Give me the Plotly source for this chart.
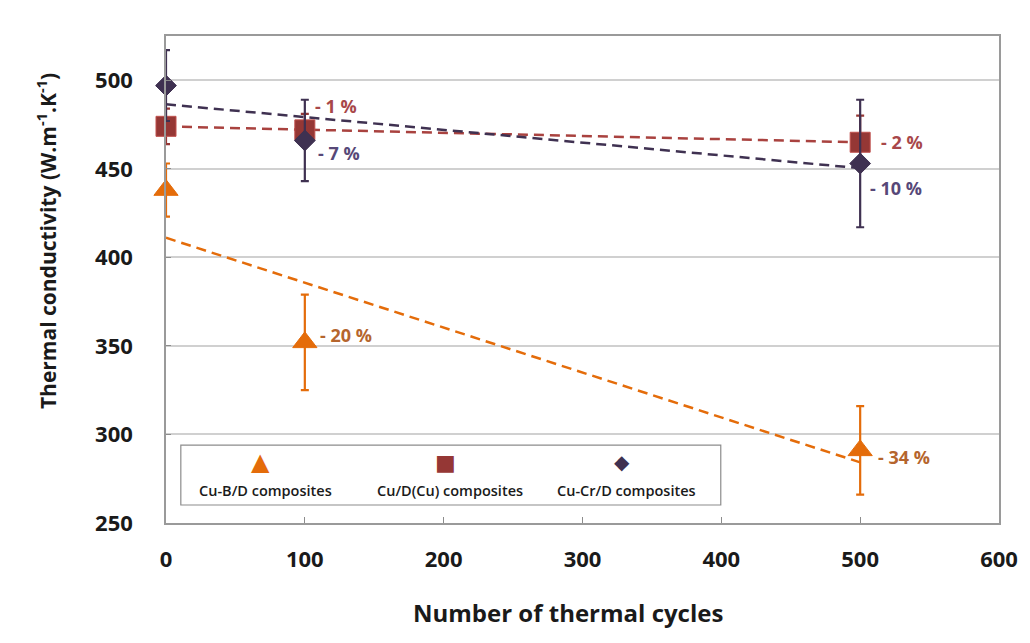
import numpy as np
import plotly.graph_objects as go

cycles = [0, 100, 500]

series_names = ["Cu-B/D composites", "Cu/D(Cu) composites", "Cu-Cr/D composites"]
cub_vals = [438, 352, 291]
cub_err = [15, 27, 25]
cud_vals = [474, 472, 465]
cud_err = [10, 9, 15]
cucr_vals = [497, 466, 453]
cucr_err = [20, 23, 36]

cub_labels = ["", "- 20 %", "- 34 %"]
cud_labels = ["", "- 1 %", "- 2 %"]
cucr_labels = ["", "- 7 %", "- 10 %"]

x_ticks = [0, 100, 200, 300, 400, 500, 600]
y_ticks = [250, 300, 350, 400, 450, 500]

x_title = "Number of thermal cycles"
y_title = "Thermal conductivity (W.m<sup>-1</sup>.K<sup>-1</sup>)"

FONT = "Open Sans"
ORANGE = "#E46C0A"
RED = "#953735"
PURPLE = "#3F3151"
TXT = "#1a1a1a"

fig = go.Figure()

styles = [
    dict(vals=cub_vals, err=cub_err, color=ORANGE, line=ORANGE, sym="triangle-up", size=21,
         border=ORANGE, lab=cub_labels, labcol="#B5652D",
         shifts=[(0, 0), (13, 7), (16, -7)]),
    dict(vals=cud_vals, err=cud_err, color=RED, line="#A9423F", sym="square", size=20,
         border="#C0504D", lab=cud_labels, labcol="#A8474A",
         shifts=[(0, 0), (8, 24), (19, 0)]),
    dict(vals=cucr_vals, err=cucr_err, color=PURPLE, line=PURPLE, sym="diamond", size=16,
         border=PURPLE, lab=cucr_labels, labcol="#574878",
         shifts=[(0, 0), (11, -13), (8, -24)]),
]

# trendlines (least-squares fit of each series)
for name, s in zip(series_names, styles):
    k, b = np.polyfit(cycles, s["vals"], 1)
    xs = np.array([cycles[0], cycles[-1]])
    fig.add_trace(go.Scatter(
        x=xs, y=k * xs + b, mode="lines",
        line=dict(color=s["line"], width=2.5, dash="10px,6px"),
        showlegend=False, hoverinfo="skip", cliponaxis=False))

for name, s in zip(series_names, styles):
    fig.add_trace(go.Scatter(
        x=cycles, y=s["vals"], mode="markers", name=name,
        marker=dict(symbol=s["sym"], size=s["size"], color=s["color"],
                    line=dict(color=s["border"], width=1)),
        error_y=dict(type="data", array=s["err"], visible=True,
                     color=s["color"], thickness=2.2, width=4),
        showlegend=False, cliponaxis=False))

annotations = []
for s in styles:
    for xv, yv, txt, (dx, dy) in zip(cycles, s["vals"], s["lab"], s["shifts"]):
        if not txt:
            continue
        annotations.append(dict(
            x=xv, y=yv, xref="x", yref="y", text=txt, showarrow=False,
            xanchor="left", yanchor="middle", xshift=dx, yshift=dy,
            font=dict(family=FONT, size=18, color=s["labcol"], weight="bold")))

# custom legend (marker above text), inside a bordered box
leg_x = [0.113, 0.335, 0.547]
leg_sym = ["▲", "■", "◆"]
leg_col = [ORANGE, RED, PURPLE]
leg_size = [24, 22, 20]
for xp, sym, col, sz, name in zip(leg_x, leg_sym, leg_col, leg_size, series_names):
    annotations.append(dict(x=xp, y=0.125, xref="paper", yref="paper", text=sym,
                            showarrow=False, xanchor="center", yanchor="middle",
                            font=dict(family="DejaVu Sans", size=sz, color=col)))
    annotations.append(dict(x=xp + 0.006, y=0.067, xref="paper", yref="paper", text=name,
                            showarrow=False, xanchor="center", yanchor="middle",
                            font=dict(family=FONT, size=14.5, color=TXT, weight=600)))

# axis titles placed as in the reference (slightly off-centre)
annotations.append(dict(x=0.483, y=-0.183, xref="paper", yref="paper", text=x_title,
                        showarrow=False, xanchor="center", yanchor="middle",
                        font=dict(family=FONT, size=24, color=TXT, weight="bold")))
annotations.append(dict(x=-0.144, y=0.579, xref="paper", yref="paper", text=y_title,
                        textangle=-90, showarrow=False, xanchor="center", yanchor="middle",
                        font=dict(family=FONT, size=21, color=TXT, weight="bold")))

shapes = [dict(type="rect", xref="paper", yref="paper", x0=0.0178, x1=0.666,
               y0=0.037, y1=0.160, line=dict(color="#8c8c8c", width=1.2),
               fillcolor="white", layer="below")]

fig.update_layout(
    width=1030, height=643,
    margin=dict(l=166, r=23, t=36, b=120),
    paper_bgcolor="white", plot_bgcolor="white",
    showlegend=False,
    font=dict(family=FONT, color=TXT),
    annotations=annotations,
    shapes=shapes,
    xaxis=dict(range=[0, 600], tickvals=x_ticks, ticks="inside", ticklen=6,
               tickcolor="#8c8c8c", showgrid=False, zeroline=False,
               showline=True, linecolor="#9a9a9a", linewidth=1.5, mirror=True,
               tickfont=dict(family=FONT, size=22, color=TXT, weight="bold"),
               ticklabelstandoff=16),
    yaxis=dict(range=[250, 525], tickvals=y_ticks, ticks="inside", ticklen=5,
               tickcolor="#8c8c8c", showgrid=True, gridcolor="#d0d0d0", gridwidth=1.5,
               zeroline=False, showline=True, linecolor="#9a9a9a", linewidth=1.5,
               mirror=True, ticklabelstandoff=27,
               tickfont=dict(family=FONT, size=22, color=TXT, weight="bold")),
)

fig.write_html("out.html")
